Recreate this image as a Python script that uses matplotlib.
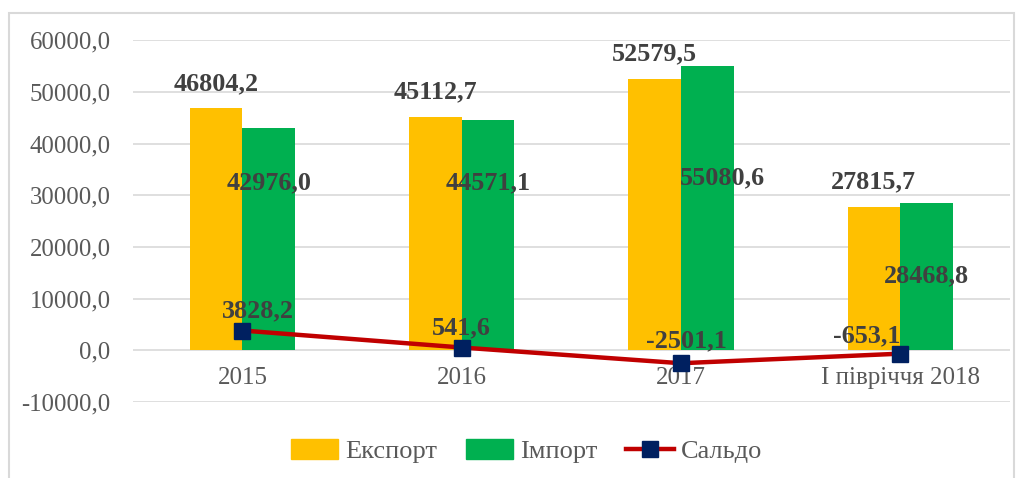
import matplotlib.pyplot as plt
import matplotlib.patches as mpatches
from matplotlib.lines import Line2D
import numpy as np

## Data
categories = ["2015", "2016", "2017", "I півріччя 2018"]
export_vals = [46804.2, 45112.7, 52579.5, 27815.7]
import_vals = [42976.0, 44571.1, 55080.6, 28468.8]
saldo_vals = [3828.2, 541.6, -2501.1, -653.1]

def fmt(v):
    return f"{v:.1f}".replace(".", ",")

# label offsets in points (Excel placed them a bit oddly)
import_offsets = [(0, -39), (0, -45), (11, -81), (0, -52)]
saldo_offsets = [(11, 14), (0, 14), (4, 16), (-24, 13)]

## Figure
plt.rcParams['font.family'] = ['Liberation Serif', 'DejaVu Serif']
fig = plt.figure(figsize=(10.22, 4.78), dpi=100)
ax = fig.add_axes([0.130, 0.159, 0.858, 0.757])

x = np.arange(len(categories))
w = 0.24
ax.bar(x - w/2, export_vals, w, color="#FFC000", label="Експорт", zorder=2)
ax.bar(x + w/2, import_vals, w, color="#00B050", label="Імпорт", zorder=2)
ax.plot(x, saldo_vals, color="#C00000", lw=3.2, marker="s", ms=12,
        markerfacecolor="#002060", markeredgecolor="#002060", zorder=4)

lab = dict(fontsize=18.8, fontweight="bold", color="#404040", ha="center", va="center", zorder=5)
for i in range(len(categories)):
    ax.annotate(fmt(export_vals[i]), (x[i] - w/2, export_vals[i]), xytext=(0, 18),
                textcoords="offset points", **lab)
    ax.annotate(fmt(import_vals[i]), (x[i] + w/2, import_vals[i]), xytext=import_offsets[i],
                textcoords="offset points", **lab)
    ax.annotate(fmt(saldo_vals[i]), (x[i], saldo_vals[i]), xytext=saldo_offsets[i],
                textcoords="offset points", **lab)

ax.set_xlim(-0.5, len(categories) - 0.5)
ax.set_ylim(-10000, 60000)
ax.set_yticks(np.arange(-10000, 60001, 10000))
ax.set_yticklabels([fmt(v) for v in np.arange(-10000, 60001, 10000)])
ax.set_xticks(x)
ax.set_xticklabels(categories)
ax.grid(axis="y", color="#D9D9D9", lw=1.2, zorder=0)
for s in ax.spines.values():
    s.set_visible(False)
ax.spines['bottom'].set_position(('data', 0))
ax.tick_params(axis="y", length=0, pad=16, labelsize=17.8, labelcolor="#595959")
ax.tick_params(axis="x", length=0, pad=12, labelsize=18, labelcolor="#595959")

## Legend
handles = [mpatches.Patch(color="#FFC000"), mpatches.Patch(color="#00B050"),
           Line2D([], [], color="#C00000", lw=3.2, marker="s", ms=12,
                  markerfacecolor="#002060", markeredgecolor="#002060")]
fig.legend(handles, ["Експорт", "Імпорт", "Сальдо"], loc="center", bbox_to_anchor=(0.515, 0.056),
           ncol=3, frameon=False, fontsize=19, labelcolor="#595959", handlelength=1.8,
           handleheight=0.75, handletextpad=0.25, columnspacing=1.1)

# chart frame
fig.add_artist(mpatches.Rectangle((9/1022, -0.05), 1005/1022, 1 - 13/478 + 0.05,
                                  transform=fig.transFigure, fill=False, edgecolor="#D9D9D9", lw=1.5))

fig.savefig("out.png", dpi=100)
